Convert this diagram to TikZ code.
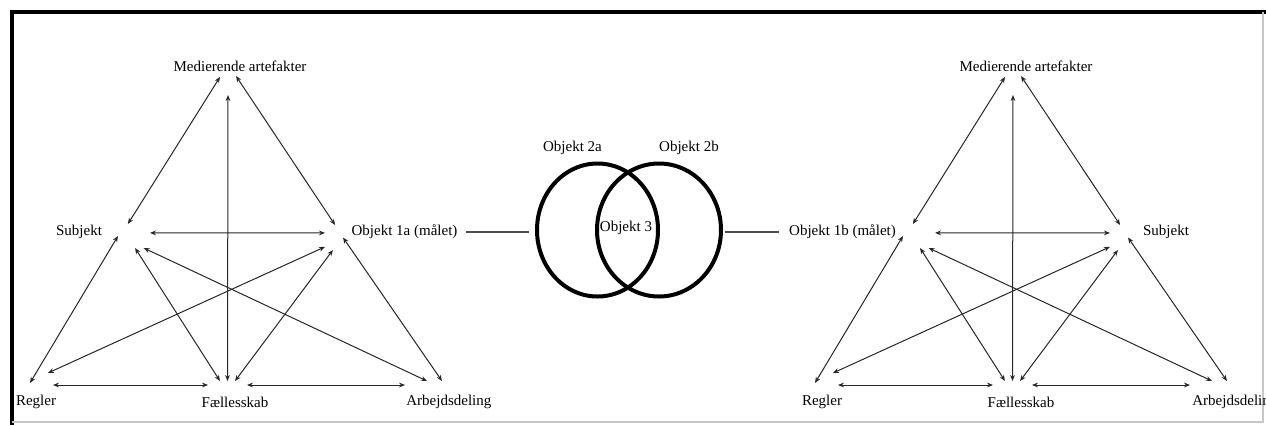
\documentclass[tikz,border=0pt]{standalone}
\usepackage{fontspec}
\setmainfont{Liberation Serif}
\usepackage{tikz}
\usetikzlibrary{arrows.meta, shapes.geometric}

\begin{document}
\begin{tikzpicture}[x=0.5pt, y=-0.5pt, font=\fontsize{7.5}{9}\selectfont,
   lbl/.style={inner sep=0pt},
   hub/.style 2 args={rectangle, inner sep=0pt, outer sep=0pt, minimum width=#1, minimum height=#2},
   link/.style={{Stealth[length=3pt, width=2.4pt]}-{Stealth[length=3pt, width=2.4pt]}, line width=0.5pt, black!85},
   venn/.style={draw, ellipse, line width=2pt, inner sep=0pt},
   conn/.style={line width=0.7pt, black!70}]
  \useasboundingbox (0,0) rectangle (1266,425);
  % frame
  \draw[line width=2pt] (11.5,425) -- (11.5,12) -- (1266,12);
  \draw[black!22, line width=0.8pt] (11.5,422) -- (1263,422) -- (1263,12);

  % left triangle
  \node[hub={8pt}{9.5pt}] (medL) at (228,85.5) {};
  \node[hub={16pt}{12pt}] (subL) at (134,236) {};
  \node[hub={9pt}{12.5pt}] (objL) at (334,237.5) {};
  \node[hub={11.5pt}{6pt}] (regL) at (41.5,379) {};
  \node[hub={19.5pt}{4pt}] (faeL) at (227.5,385) {};
  \node[hub={18.5pt}{4pt}] (arbL) at (423.5,385) {};
  \node[lbl] (tMedL) at (240,66) {Medierende artefakter};
  \node[lbl] (tSubL) at (79,232) {Subjekt};
  \node[lbl] (tObjL) at (404.5,232) {Objekt 1a (målet)};
  \node[lbl] (tRegL) at (36,402) {Regler};
  \node[lbl] (tFaeL) at (235,402) {Fællesskab};
  \node[lbl, anchor=west] (tArbL) at (406,402) {Arbejdsdeling};
  \draw[link] (medL.133) -- (subL.117);
  \draw[link] (medL.north east) -- (objL.85);
  \draw[link] (medL.south) -- (faeL.north);
  \draw[link] (subL.11) -- (objL.153);
  \draw[link] (subL.west) -- (regL.199);
  \draw[link] (subL.-85) -- (faeL.152);
  \draw[link] (subL.-51) -- (arbL.49);
  \draw[link] (objL.-134) -- (regL.43);
  \draw[link] (objL.-95) -- (faeL.28);
  \draw[link] (objL.east) -- (arbL.north east);
  \draw[link] (regL.south east) -- (faeL.west);
  \draw[link] (faeL.east) -- (arbL.west);

  % right triangle, same layout shifted
  \begin{scope}[shift={(785,0)}]
    \node[hub={8pt}{9.5pt}] (medR) at (228,85.5) {};
    \node[hub={16pt}{12pt}] (objR) at (134,236) {};
    \node[hub={9pt}{12.5pt}] (subR) at (334,237.5) {};
    \node[hub={11.5pt}{6pt}] (regR) at (41.5,379) {};
    \node[hub={19.5pt}{4pt}] (faeR) at (227.5,385) {};
    \node[hub={18.5pt}{4pt}] (arbR) at (423.5,385) {};
    \node[lbl] (tMedR) at (241,66) {Medierende artefakter};
    \node[lbl] (tObjR) at (57.5,232) {Objekt 1b (målet)};
    \node[lbl] (tSubR) at (381,232) {Subjekt};
    \node[lbl] (tRegR) at (37,402) {Regler};
    \node[lbl] (tFaeR) at (236,402) {Fællesskab};
    \node[lbl, anchor=west] (tArbR) at (407,402) {Arbejdsdeling};
    \draw[link] (medR.133) -- (objR.117);
    \draw[link] (medR.north east) -- (subR.85);
    \draw[link] (medR.south) -- (faeR.north);
    \draw[link] (objR.11) -- (subR.153);
    \draw[link] (objR.west) -- (regR.199);
    \draw[link] (objR.-85) -- (faeR.152);
    \draw[link] (objR.-51) -- (arbR.49);
    \draw[link] (subR.-134) -- (regR.43);
    \draw[link] (subR.-95) -- (faeR.28);
    \draw[link] (subR.east) -- (arbR.north east);
    \draw[link] (regR.south east) -- (faeR.west);
    \draw[link] (faeR.east) -- (arbR.west);
  \end{scope}

  % shared objects
  \node[venn, minimum width=60.5pt, minimum height=66.5pt] (cirA) at (597.5,230) {};
  \node[venn, minimum width=62pt, minimum height=66.5pt] (cirB) at (659,230) {};
  \node[lbl] (tObjA) at (572.5,148) {Objekt 2a};
  \node[lbl] (tObjB) at (689,148) {Objekt 2b};
  \node[lbl] (tObjC) at (626,228) {Objekt 3};
  \draw[conn, shorten <=4pt, shorten >=3pt] (tObjL.east) -- (tObjL.east -| cirA.west);
  \draw[conn, shorten <=1pt, shorten >=5pt] (cirB.east |- tObjR.west) -- (tObjR.west);
\end{tikzpicture}
\end{document}
